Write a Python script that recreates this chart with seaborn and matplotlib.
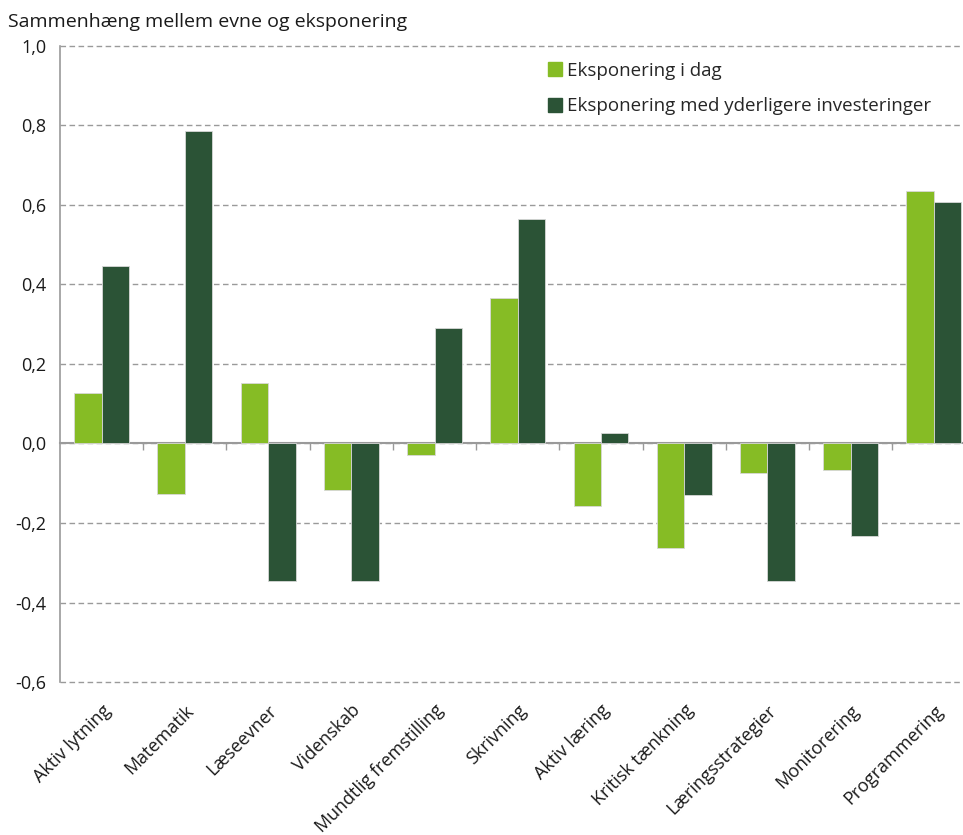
import matplotlib
matplotlib.use("Agg")
from matplotlib import pyplot as plt
from matplotlib.ticker import FuncFormatter
import pandas as pd
import seaborn as sns

kategorier = ["Aktiv lytning", "Matematik", "Læseevner", "Videnskab", "Mundtlig fremstilling",
              "Skrivning", "Aktiv læring", "Kritisk tænkning", "Læringsstrategier",
              "Monitorering", "Programmering"]
serie_navne = ["Eksponering i dag", "Eksponering med yderligere investeringer"]
i_dag = [0.126, -0.128, 0.151, -0.116, -0.029, 0.366, -0.158, -0.264, -0.073, -0.067, 0.635]
med_inv = [0.446, 0.785, -0.347, -0.347, 0.291, 0.564, 0.026, -0.129, -0.346, -0.232, 0.607]
y_ticks = [-0.6, -0.4, -0.2, 0.0, 0.2, 0.4, 0.6, 0.8, 1.0]
farver = ["#86BC25", "#2B5336"]

df = pd.DataFrame({
    "kategori": kategorier * 2,
    "serie": [serie_navne[0]] * len(kategorier) + [serie_navne[1]] * len(kategorier),
    "vaerdi": i_dag + med_inv,
})

sns.set_theme(style="white")
plt.rcParams["font.family"] = ["Open Sans", "DejaVu Sans"]
grey = "#9a9a9a"
txt = "#1a1a1a"

fig = plt.figure(figsize=(9.63, 8.35), dpi=100)
ax = fig.add_axes([60 / 963, 153 / 835, 903 / 963, 636 / 835])

sns.barplot(data=df, x="kategori", y="vaerdi", hue="serie", palette=farver,
            width=0.66, saturation=1, edgecolor="#d8d8d8", linewidth=0.6,
            ax=ax, zorder=3)

ax.set_ylim(-0.6, 1.0)
ax.set_xlim(-0.5, 10.35)
ax.set_yticks(y_ticks)
ax.yaxis.set_major_formatter(FuncFormatter(lambda v, p: f"{v:.1f}".replace(".", ",")))
ax.grid(axis="y", color=grey, linestyle=(0, (4, 2.5)), linewidth=1, zorder=0)
ax.set_axisbelow(True)
for gl in ax.get_ygridlines():
    gl.set_clip_on(False)
ax.set_xlabel("")
ax.set_ylabel("")

for s in ["top", "right", "bottom"]:
    ax.spines[s].set_visible(False)
ax.spines["left"].set_color(grey)
ax.spines["left"].set_linewidth(1.2)
ax.tick_params(axis="y", length=4, width=1, color=grey, labelsize=13, pad=6, labelcolor=txt)
ax.tick_params(axis="x", length=0, labelsize=13, pad=14, labelcolor=txt)
plt.setp(ax.get_xticklabels(), rotation=45, ha="right", rotation_mode="anchor")

# nul-linje med streger mellem kategorierne
nul = ax.secondary_xaxis(0.375)
nul.set_xticks([i + 0.5 for i in range(len(kategorier))])
nul.set_xticklabels([])
nul.tick_params(axis="x", length=5, width=1, color=grey, direction="out")
nul.spines["bottom"].set_color(grey)
nul.spines["bottom"].set_linewidth(1.5)

ax.get_legend().remove()
handles = [plt.Rectangle((0, 0), 1, 1, color=c) for c in farver]
fig.legend(handles, serie_navne, loc="upper left", bbox_to_anchor=(540 / 963, 1 - 54 / 835),
           frameon=False, fontsize=13.5, handlelength=0.75, handleheight=0.75,
           handletextpad=0.3, labelspacing=0.95, borderaxespad=0)

fig.text(8 / 963, 1 - 22 / 835, "Sammenhæng mellem evne og eksponering",
         fontsize=14, va="center", ha="left", color=txt)

fig.savefig("out.png", dpi=100)
